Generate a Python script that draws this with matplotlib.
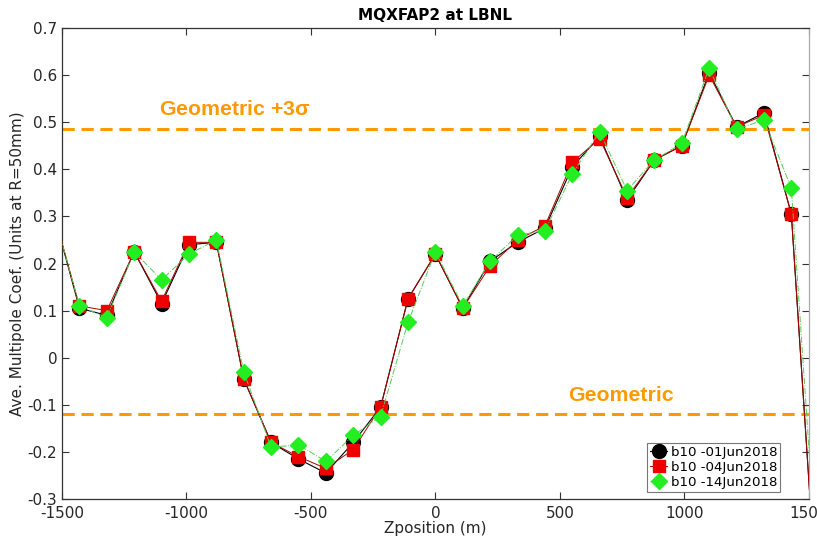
import numpy as np
import matplotlib
matplotlib.use("Agg")
import matplotlib.pyplot as plt

# Z positions of the measurement stations (m); the outermost two lie beyond the axis limits
zpos = [-1540, -1430, -1320, -1210, -1100, -990, -880, -770, -660, -550, -440, -330, -220, -110,
        0, 110, 220, 330, 440, 550, 660, 770, 880, 990, 1100, 1210, 1320, 1430, 1540]

b10_01jun = [0.32, 0.105, 0.09, 0.225, 0.115, 0.24, 0.245, -0.045, -0.18, -0.215, -0.245, -0.18,
             -0.105, 0.125, 0.22, 0.105, 0.205, 0.245, 0.275, 0.405, 0.47, 0.335, 0.42, 0.45,
             0.605, 0.49, 0.52, 0.305, -0.58]
b10_04jun = [0.32, 0.11, 0.10, 0.225, 0.12, 0.245, 0.245, -0.045, -0.18, -0.21, -0.235, -0.195,
             -0.105, 0.125, 0.22, 0.105, 0.195, 0.25, 0.28, 0.415, 0.465, 0.34, 0.42, 0.45,
             0.60, 0.49, 0.515, 0.305, -0.58]
b10_14jun = [0.32, 0.11, 0.085, 0.225, 0.165, 0.22, 0.25, -0.03, -0.19, -0.185, -0.22, -0.165,
             -0.125, 0.075, 0.225, 0.11, 0.205, 0.26, 0.27, 0.39, 0.48, 0.355, 0.42, 0.455,
             0.615, 0.485, 0.505, 0.36, -0.50]

series_labels = ["b10 -01Jun2018", "b10 -04Jun2018", "b10 -14Jun2018"]

geometric = -0.12
geometric_3sigma = 0.485

orange = "#FF9900"

fig = plt.figure(figsize=(8.17, 5.44), dpi=100)
ax = fig.add_axes([0.0759, 0.0827, 0.914, 0.8658])

ax.plot(zpos, b10_01jun, color="black", lw=0.8, ls="-", marker="o", ms=10,
        mfc="black", mec="black", label=series_labels[0], zorder=3)
ax.plot(zpos, b10_04jun, color="#B00000", lw=0.7, ls="-", marker="s", ms=8.5,
        mfc="#EE0000", mec="#EE0000", label=series_labels[1], zorder=4)
ax.plot(zpos, b10_14jun, color="#55CC55", lw=0.7, ls="-.", marker="D", ms=8.5,
        mfc="#22EE22", mec="#22EE22", label=series_labels[2], zorder=5)

ax.axhline(geometric_3sigma, color=orange, lw=2.2, ls=(0, (4, 2.2)), zorder=2)
ax.axhline(geometric, color=orange, lw=2.2, ls=(0, (4, 2.2)), zorder=2)

ax.text(-1110, 0.527, r"Geometric +3$\mathregular{\sigma}$", color=orange, fontsize=15.3,
        fontweight="bold", family="Liberation Sans", va="center", ha="left")
ax.text(535, -0.081, "Geometric", color=orange, fontsize=15.3,
        fontweight="bold", family="Liberation Sans", va="center", ha="left")

ax.set_xlim(-1500, 1500)
ax.set_ylim(-0.3, 0.7)
ax.set_xticks(np.arange(-1500, 1501, 500))
ax.set_yticks(np.round(np.arange(-0.3, 0.71, 0.1), 1))
ax.set_xticklabels(["-1500", "-1000", "-500", "0", "500", "1000", "1500"])
ax.set_yticklabels(["-0.3", "-0.2", "-0.1", "0", "0.1", "0.2", "0.3", "0.4", "0.5", "0.6", "0.7"])

ax.tick_params(direction="in", length=5, width=0.8, top=True, right=True,
               labelsize=11, colors="#333333", labelcolor="#262626")
ax.tick_params(axis="x", pad=5)
for s in ax.spines.values():
    s.set_color("#333333")
    s.set_linewidth(0.9)
ax.spines["right"].set_color("#aaaaaa")

ax.set_xlabel("Zposition (m)", fontsize=11, color="#262626", labelpad=0)
ax.set_ylabel("Ave. Multipole Coef. (Units at R=50mm)", fontsize=11, color="#262626", labelpad=2)
ax.set_title("MQXFAP2 at LBNL", fontsize=11, fontweight="bold", pad=6)

leg = ax.legend(loc="lower right", bbox_to_anchor=(0.962, 0.014), borderaxespad=0,
                fontsize=9.6, frameon=True, fancybox=False, handlelength=1.3,
                handletextpad=0.25, borderpad=0.25, labelspacing=0.15, markerscale=1.0)
leg.get_frame().set_edgecolor("#555555")
leg.get_frame().set_linewidth(0.8)

fig.savefig("out.png", dpi=100)
